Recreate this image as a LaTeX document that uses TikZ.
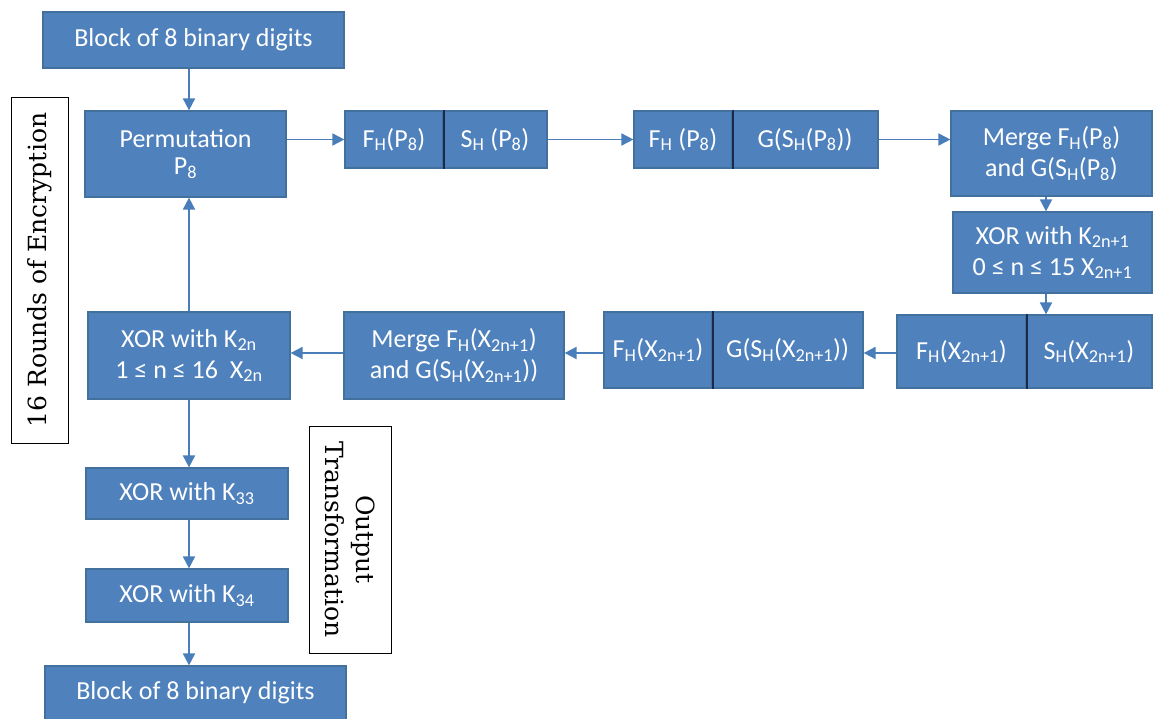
\documentclass[tikz,border=0pt]{standalone}
\usepackage{fontspec}
\setmainfont{Carlito}
\newfontfamily\tagfont{DejaVu Serif}
\usetikzlibrary{arrows.meta,positioning}
\definecolor{boxblue}{HTML}{4F81BD}
\definecolor{boxedge}{HTML}{41719C}
\definecolor{arrowblue}{HTML}{4A7EBB}
\definecolor{divnavy}{HTML}{1A2A4C}
\newcommand{\sub}[1]{\textsubscript{#1}}
\tikzset{
  blk/.style 2 args={draw=boxedge, line width=1.2pt, fill=boxblue, text=white,
    align=center, inner sep=0pt, minimum width=#1pt, minimum height=#2pt,
    font=\fontsize{26}{31}\selectfont},
  arr/.style={draw=arrowblue, line width=1.8pt, -{Triangle[length=12pt,width=12pt]}},
  divider/.style={draw=divnavy, line width=1.8pt},
  tagbox/.style 2 args={draw=black, line width=1pt, fill=white, align=center,
    inner sep=0pt, minimum width=#1pt, minimum height=#2pt,
    font=\tagfont\fontsize{25}{31}\selectfont},
}
\begin{document}
\begin{tikzpicture}[x=1pt, y=-1pt]
    \path[fill=white, use as bounding box] (0,0) rectangle (1153,718);

    % hilfslinien fuer die pfeile
    \coordinate (spine) at (189,0);
    \coordinate (rspine) at (1046,0);
    \coordinate (row) at (0,353);

    % linke spalte
    \node[blk={301}{56}] (top) at (193.5,40) {Block of 8 binary digits};
    \node[blk={201}{86}] (perm) at (185.5,154) {Permutation\\[-4pt]P\sub{8}};

    % erste zeile
    \node[blk={98}{57}] (fhpL) at (394,139.5) {F\sub{H}(P\sub{8})};
    \node[blk={104}{57}] (fhpR) at (495,139.5) {S\sub{H} (P\sub{8})};
    \node[blk={98}{57}] (ghpL) at (683,139.5) {F\sub{H} (P\sub{8})};
    \node[blk={146}{57}] (ghpR) at (805,139.5) {G(S\sub{H}(P\sub{8}))};
    \node[blk={201}{85}] (mergep) at (1051.5,153.5) {Merge F\sub{H}(P\sub{8})\\and G(S\sub{H}(P\sub{8})};
    \node[blk={199}{81}] (xorodd) at (1052.5,252.5) {XOR with K\sub{2n+1}\\0 ≤ n ≤ 15 X\sub{2n+1}};

    % zweite zeile
    \node[blk={129}{73}] (fhxL) at (961.5,351.5) {F\sub{H}(X\sub{2n+1})};
    \node[blk={126}{73}] (fhxR) at (1089,351.5) {S\sub{H}(X\sub{2n+1})};
    \node[blk={108}{76}] (ghxL) at (658,350) {F\sub{H}(X\sub{2n+1})};
    \node[blk={151}{76}] (ghxR) at (787.5,350) {G(S\sub{H}(X\sub{2n+1}))};
    \node[blk={220}{87}] (mergex) at (454,355.5) {Merge F\sub{H}(X\sub{2n+1})\\and G(S\sub{H}(X\sub{2n+1}))};
    \node[blk={202}{87}] (xoreven) at (189,355.5) {XOR with K\sub{2n}\\1 ≤ n ≤ 16\ \ X\sub{2n}};

    % ausgabe
    \node[blk={202}{51}] (xor33) at (187,493.5) {XOR with K\sub{33}};
    \node[blk={202}{53}] (xor34) at (187,595.5) {XOR with K\sub{34}};
    \node[blk={301}{54}] (bottom) at (195.5,693) {Block of 8 binary digits};

    % trennstriche
    \draw[divider] (fhpL.north east) -- (fhpL.south east);
    \draw[divider] (ghpL.north east) -- (ghpL.south east);
    \draw[divider] (fhxL.north east) -- (fhxL.south east);
    \draw[divider] (ghxL.north east) -- (ghxL.south east);

    % beschriftungen
    \node[tagbox={346}{57}, rotate=90] (rounds) at (39.5,270) {16 Rounds of Encryption};
    \node[tagbox={227}{82}, rotate=-90] (output) at (350,539.5) {Output\\Transformation};

    % pfeile
    \draw[arr] (top.south -| spine) -- (perm.north -| spine);
    \draw[arr] (perm.east |- fhpL.west) -- (fhpL.west);
    \draw[arr] (fhpR.east) -- (ghpL.west);
    \draw[arr] (ghpR.east) -- (ghpR.east -| mergep.west);
    \draw[arr] (mergep.south -| rspine) -- (xorodd.north -| rspine);
    \draw[arr] (xorodd.south -| rspine) -- (fhxR.north -| rspine);
    \draw[arr] (fhxL.west |- row) -- (ghxR.east |- row);
    \draw[arr] (ghxL.west |- row) -- (mergex.east |- row);
    \draw[arr] (mergex.west |- row) -- (xoreven.east |- row);
    \draw[arr] (xoreven.north -| spine) -- (perm.south -| spine);
    \draw[arr] (xoreven.south -| spine) -- (xor33.north -| spine);
    \draw[arr] (xor33.south -| spine) -- (xor34.north -| spine);
    \draw[arr] (xor34.south -| spine) -- (bottom.north -| spine);
\end{tikzpicture}
\end{document}
